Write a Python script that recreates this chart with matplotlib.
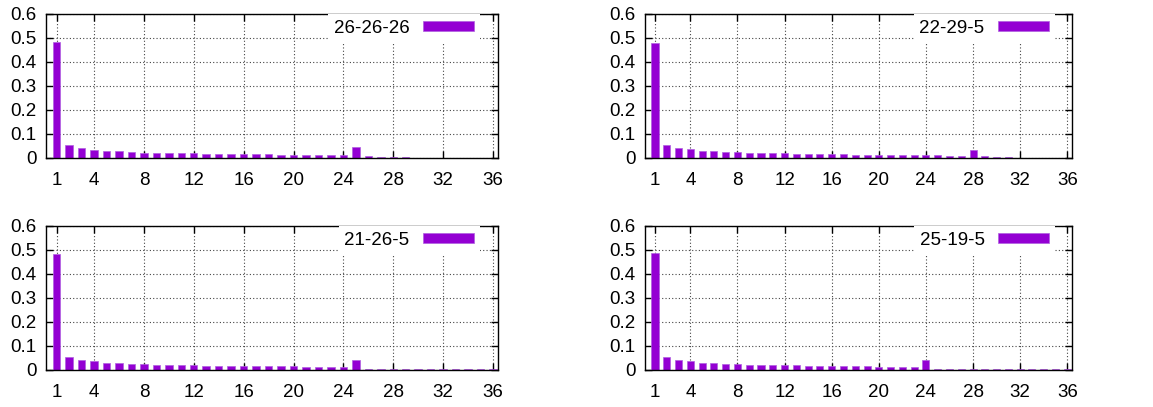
import matplotlib
matplotlib.use("Agg")
import matplotlib.pyplot as plt
import numpy as np

plt.rcParams['font.family'] = ['Liberation Sans', 'DejaVu Sans']

positions = list(range(1, 37))
xtick_labels = [1, 4, 8, 12, 16, 20, 24, 28, 32, 36]
yticks = [0, 0.1, 0.2, 0.3, 0.4, 0.5, 0.6]

labels = ["26-26-26", "22-29-5", "21-26-5", "25-19-5"]

vals_26_26_26 = [0.484, 0.053, 0.040, 0.033, 0.029, 0.028, 0.024, 0.022, 0.021, 0.019,
                 0.019, 0.019, 0.017, 0.015, 0.015, 0.015, 0.015, 0.015, 0.0125, 0.0125,
                 0.011, 0.011, 0.011, 0.011, 0.044, 0.007, 0.0055, 0.004, 0.003, 0.002,
                 0.002, 0.0015, 0.0015, 0.0015, 0.001, 0.001]
vals_22_29_5 = [0.481, 0.053, 0.040, 0.036, 0.029, 0.028, 0.024, 0.024, 0.021, 0.019,
                0.019, 0.019, 0.017, 0.015, 0.015, 0.015, 0.015, 0.014, 0.0125, 0.011,
                0.014, 0.011, 0.011, 0.011, 0.011, 0.010, 0.010, 0.032, 0.007, 0.0055,
                0.004, 0.002, 0.002, 0.0015, 0.0015, 0.0015]
vals_21_26_5 = [0.485, 0.055, 0.043, 0.036, 0.030, 0.028, 0.025, 0.0235, 0.022, 0.021,
                0.019, 0.019, 0.018, 0.018, 0.018, 0.0166, 0.015, 0.015, 0.015, 0.015,
                0.014, 0.0125, 0.011, 0.011, 0.0415, 0.0055, 0.0055, 0.0055, 0.004, 0.004,
                0.004, 0.0035, 0.0035, 0.003, 0.003, 0.003]
vals_25_19_5 = [0.489, 0.055, 0.043, 0.036, 0.030, 0.028, 0.025, 0.0235, 0.022, 0.022,
                0.021, 0.019, 0.019, 0.018, 0.018, 0.0166, 0.015, 0.0166, 0.015, 0.014,
                0.014, 0.0125, 0.011, 0.043, 0.0055, 0.0045, 0.004, 0.004, 0.0035, 0.0035,
                0.0035, 0.0035, 0.003, 0.003, 0.003, 0.003]

series = [vals_26_26_26, vals_22_29_5, vals_21_26_5, vals_25_19_5]

W, H = 1153, 407
fig = plt.figure(figsize=(W / 100, H / 100), dpi=100)

# axes boxes in pixels: (left, top, right, bottom)
boxes = [(46, 14, 498, 158), (645, 14, 1072, 158),
         (46, 226, 498, 370), (645, 226, 1072, 370)]

bar_color = '#9400D3'
fs = 13.5

for (l, t, r, b), lab, vals in zip(boxes, labels, series):
    ax = fig.add_axes([l / W, 1 - b / H, (r - l) / W, (b - t) / H])
    ax.bar(positions, vals, width=0.6, color=bar_color, edgecolor='#b060e0',
           linewidth=0.5, label=lab, zorder=2)
    ax.set_xlim(0.15, 36.4)
    ax.set_ylim(0, 0.6)
    ax.set_xticks(xtick_labels)
    ax.set_xticklabels([str(v) for v in xtick_labels])
    ax.set_yticks(yticks)
    ax.set_yticklabels(['0', '0.1', '0.2', '0.3', '0.4', '0.5', '0.6'])
    ax.tick_params(direction='in', length=5, width=1, top=True, right=True,
                   labelsize=fs, pad=7, colors='black')
    ax.tick_params(axis='x', pad=10)
    ax.grid(True, color='#444444', linestyle=(0, (1, 2)), linewidth=0.8, zorder=0)
    ax.set_axisbelow(True)
    for s in ax.spines.values():
        s.set_linewidth(1.0)
        s.set_color('black')
    leg = ax.legend(loc='upper right', bbox_to_anchor=(0.96, 1.0), frameon=True,
                    fancybox=False, facecolor='white', edgecolor='none', framealpha=1,
                    markerfirst=False, handlelength=2.75, handleheight=0.5,
                    handletextpad=0.7, borderpad=0.3, borderaxespad=0.0,
                    fontsize=fs)
    leg.get_frame().set_linewidth(0)
    leg.set_zorder(5)

fig.savefig('out.png', dpi=100)
